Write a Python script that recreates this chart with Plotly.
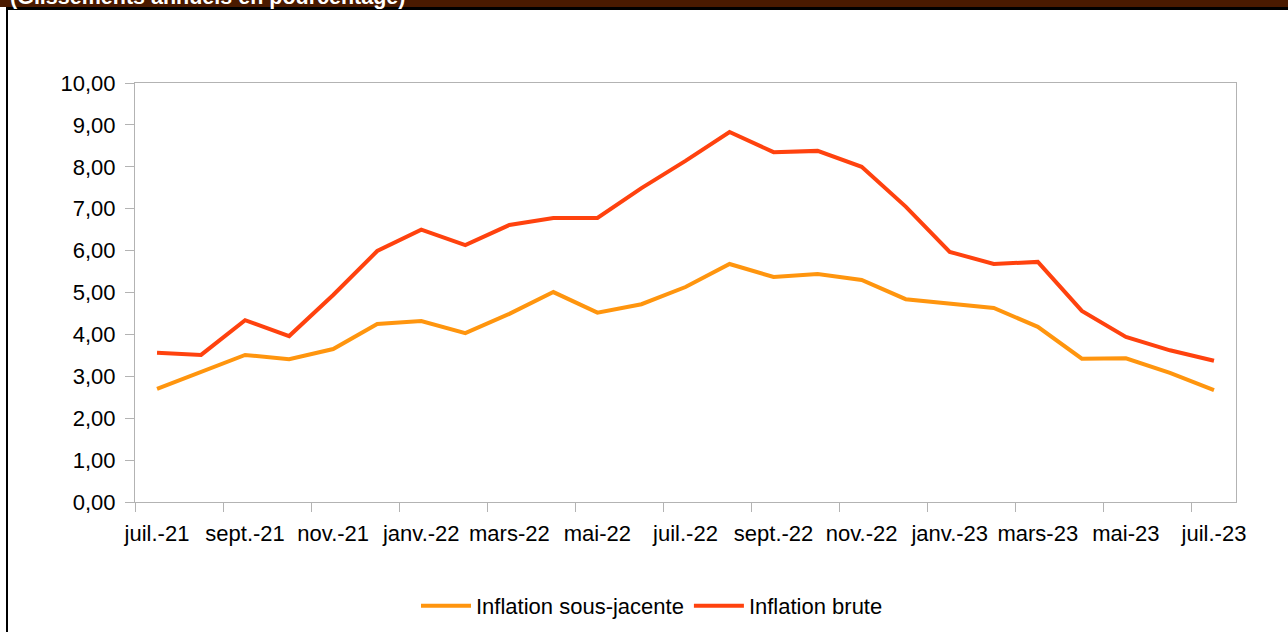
import plotly.graph_objects as go

months = ["juil.-21", "août-21", "sept.-21", "oct.-21", "nov.-21", "déc.-21",
          "janv.-22", "févr.-22", "mars-22", "avr.-22", "mai-22", "juin-22",
          "juil.-22", "août-22", "sept.-22", "oct.-22", "nov.-22", "déc.-22",
          "janv.-23", "févr.-23", "mars-23", "avr.-23", "mai-23", "juin-23", "juil.-23"]

inflation_sous_jacente = [2.70, 3.10, 3.51, 3.41, 3.65, 4.25, 4.32, 4.03, 4.49, 5.01,
                          4.52, 4.72, 5.13, 5.68, 5.37, 5.44, 5.30, 4.84, 4.74, 4.63,
                          4.18, 3.42, 3.43, 3.08, 2.67]

inflation_brute = [3.56, 3.51, 4.34, 3.96, 4.94, 5.99, 6.50, 6.13, 6.61, 6.78,
                   6.78, 7.49, 8.14, 8.83, 8.35, 8.38, 8.00, 7.05, 5.97, 5.68,
                   5.73, 4.56, 3.94, 3.62, 3.37]

series_names = ["Inflation sous-jacente", "Inflation brute"]
series_colors = ["#FF950E", "#FF420E"]
subtitle = "(Glissements annuels en pourcentage)"

x_idx = list(range(len(months)))
label_idx = x_idx[::2]
label_txt = months[::2]

fig = go.Figure()
for name, vals, col in zip(series_names, [inflation_sous_jacente, inflation_brute], series_colors):
    fig.add_trace(go.Scatter(x=x_idx, y=vals, mode="lines", name=name,
                             line=dict(color=col, width=4), hoverinfo="skip"))

FONT = "Liberation Sans, Arial, sans-serif"
W, H = 1288, 632
L, R, T, B = 135, 1236, 83, 502


def px_x(px):
    return (px - L) / (R - L)


def px_y(py):
    return (B - py) / (B - T)


shapes = [
    # brown banner
    dict(type="rect", xref="paper", yref="paper", x0=px_x(-5), x1=px_x(W + 5),
         y0=px_y(7), y1=px_y(-5), fillcolor="#4A1A00", line=dict(width=0), layer="below"),
    # black rule
    dict(type="rect", xref="paper", yref="paper", x0=px_x(6), x1=px_x(W + 5),
         y0=px_y(10), y1=px_y(7), fillcolor="#000000", line=dict(width=0), layer="below"),
    # left black border
    dict(type="rect", xref="paper", yref="paper", x0=px_x(6), x1=px_x(8),
         y0=px_y(H + 5), y1=px_y(7), fillcolor="#000000", line=dict(width=0), layer="below"),
]

fig.update_layout(
    width=W, height=H,
    margin=dict(l=L, r=W - R, t=T, b=H - B, pad=0),
    paper_bgcolor="white", plot_bgcolor="white",
    separators=", ",
    font=dict(family=FONT, size=22, color="#000000"),
    showlegend=True,
    legend=dict(orientation="h", xref="container", yref="container",
                x=652 / W, xanchor="center", y=1 - 606 / H, yanchor="middle",
                font=dict(family=FONT, size=22, color="#000000"),
                bgcolor="rgba(0,0,0,0)", itemwidth=50, tracegroupgap=0),
    shapes=shapes,
    annotations=[dict(text="<b>" + subtitle + "</b>", xref="paper", yref="paper",
                      x=px_x(8), y=px_y(-3), xanchor="left", yanchor="middle",
                      showarrow=False, font=dict(family=FONT, size=21.5, color="white"))],
    xaxis=dict(range=[-0.5, len(months) - 0.5], tickmode="array", tickvals=label_idx,
               ticktext=label_txt, ticks="", showgrid=False, zeroline=False,
               showline=True, linecolor="#B3B3B3", linewidth=1, mirror=True,
               ticklabelstandoff=12, automargin=False,
               tickfont=dict(family=FONT, size=22, color="#000000"),
               minor=dict(tickmode="linear", tick0=-0.5, dtick=2, ticks="outside",
                          ticklen=9, tickcolor="#B3B3B3", tickwidth=1, showgrid=False)),
    yaxis=dict(range=[0, 10], tickmode="linear", tick0=0, dtick=1, tickformat=".2f",
               ticks="outside", ticklen=9, tickcolor="#B3B3B3", tickwidth=1,
               ticklabelstandoff=5, automargin=False,
               showgrid=False, zeroline=False, showline=True, linecolor="#B3B3B3",
               linewidth=1, mirror=True,
               tickfont=dict(family=FONT, size=22, color="#000000")),
)

fig.write_html("out.html", config={"displayModeBar": False})

# remove default page margin so the figure sits at the top-left corner
with open("out.html", "r", encoding="utf-8") as f:
    html = f.read()
html = html.replace("<head>", "<head><style>html,body{margin:0;padding:0;overflow:hidden;}</style>", 1)
with open("out.html", "w", encoding="utf-8") as f:
    f.write(html)
